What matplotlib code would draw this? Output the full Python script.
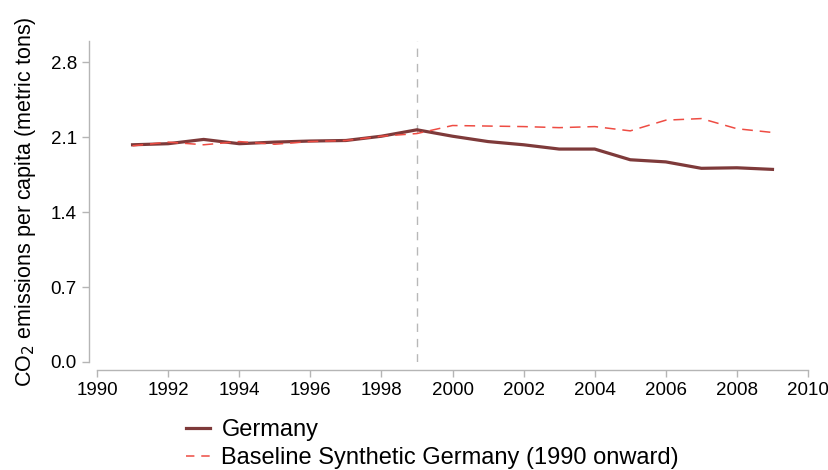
import matplotlib
matplotlib.use("Agg")
from matplotlib import pyplot as plt
import numpy as np

plt.rcParams['font.family'] = ['Liberation Sans', 'DejaVu Sans']

# Data
years = np.arange(1991, 2010)
germany = [2.03, 2.04, 2.08, 2.04, 2.055, 2.065, 2.07, 2.11, 2.17,
           2.11, 2.06, 2.03, 1.99, 1.99, 1.89, 1.87, 1.81, 1.815, 1.80]
synthetic = [2.02, 2.055, 2.03, 2.06, 2.035, 2.06, 2.07, 2.11, 2.135,
             2.21, 2.205, 2.20, 2.19, 2.20, 2.16, 2.26, 2.275, 2.18, 2.145]
treatment_year = 1999
xticks = np.arange(1990, 2011, 2)
yticks = [0.0, 0.7, 1.4, 2.1, 2.8]

fig = plt.figure(figsize=(8.29, 4.70), dpi=100)
ax = fig.add_axes([0.117, 0.2298, 0.8577, 0.683])

ax.plot(years, germany, color='#7e3a3a', lw=2.3, label='Germany', zorder=3)
ax.plot(years, synthetic, color='#ee4c43', lw=1.1, dashes=(7, 4.5),
        label='Baseline Synthetic Germany (1990 onward)', zorder=4)
ax.axvline(treatment_year, color='#b8b8b8', lw=1.0, dashes=(6, 5), zorder=1)

ax.set_xlim(1990, 2010)
ax.set_ylim(0, 3.0)
ax.set_xticks(xticks)
ax.set_yticks(yticks)
ax.set_yticklabels([f"{v:.1f}" for v in yticks])
ax.set_ylabel('CO$_2$ emissions per capita (metric tons)', fontsize=15.5, labelpad=9)

for s in ['top', 'right']:
    ax.spines[s].set_visible(False)
for s in ['left', 'bottom']:
    ax.spines[s].set_position(('outward', 6))
    ax.spines[s].set_color('#b5b5b5')
    ax.spines[s].set_linewidth(1.0)
ax.spines['bottom'].set_bounds(1990, 2010)
ax.spines['left'].set_bounds(0, 3.0)
ax.tick_params(axis='both', colors='#b5b5b5', labelcolor='black', labelsize=13.5,
               length=5, width=1.0)

leg = fig.legend(loc='upper left', bbox_to_anchor=(0.213, 0.128), frameon=False,
                 fontsize=17, handlelength=1.0, handletextpad=0.5, labelspacing=0.25,
                 borderaxespad=0)
# two short dashes in the legend key, as in the reference
leg.get_lines()[1].set_dashes((5.5, 4.5))

fig.savefig('out.png', dpi=100)
